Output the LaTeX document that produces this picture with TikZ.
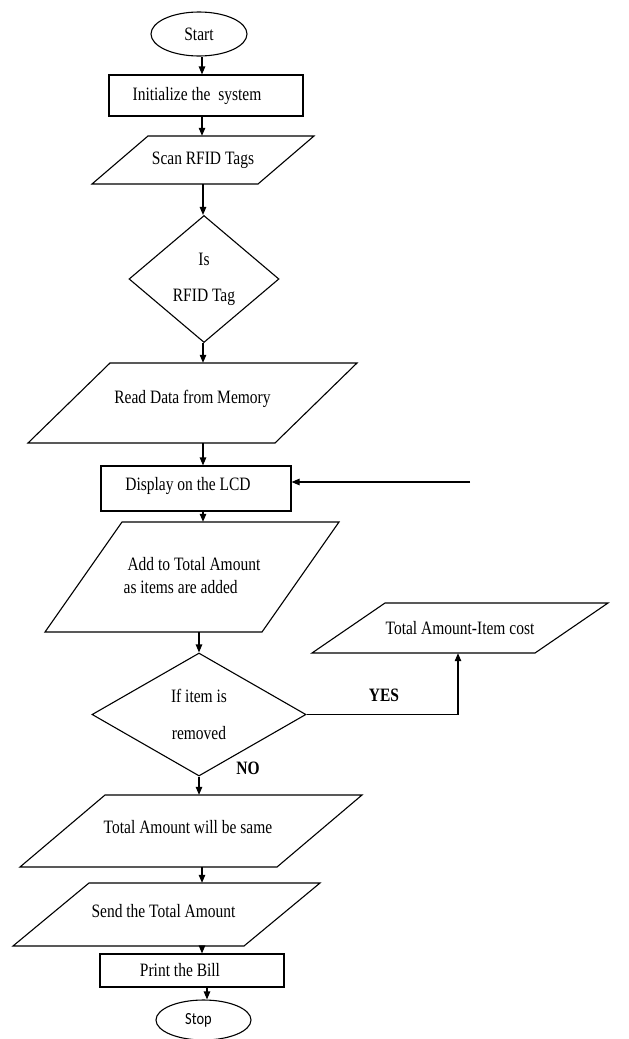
\documentclass[tikz,border=0pt]{standalone}
\usepackage{fontspec}
\setmainfont{Liberation Serif}[FakeStretch=0.82]
\newfontfamily\stopfont{Carlito}[FakeStretch=0.85]
\usetikzlibrary{shapes.geometric,arrows.meta}
\newcommand{\txtfont}{\fontsize{18.9}{23}\selectfont}
\newcommand{\paranode}[7]{%
  \draw[shapeline] (#4,#2) -- (#5,#2) -- ({#5-#6},#3) -- ({#4-#6},#3) -- cycle;
  \node[paratext, minimum height={#3-#2}, minimum width={#5-#4}] (#1) at ({(#4+#5-#6)/2},{(#2+#3)/2}) {#7};
}
\begin{document}
\begin{tikzpicture}[x=1pt,y=-1pt,
  shapeline/.style={line width=1.1pt, line join=miter},
  paratext/.style={inner sep=0pt, align=center, font=\txtfont},
  box/.style={draw, line width=1.1pt, inner sep=0pt, align=center, font=\txtfont},
  term/.style={draw, ellipse, line width=1.1pt, inner sep=0pt, font=\txtfont},
  decision/.style={draw, diamond, line width=1.1pt, inner sep=0pt, aspect=1, align=center, font=\txtfont},
  arr/.style={line width=1.1pt, -{Triangle[length=8pt,width=6.5pt]}},
  lbl/.style={inner sep=0pt, font=\txtfont\bfseries}
]
\fill[white] (0,0) rectangle (629,1039);
\useasboundingbox (0,0) rectangle (629,1039);

\coordinate (colA) at (202,0);
\coordinate (colB) at (203,0);
\coordinate (colC) at (199,0);
\coordinate (colD) at (207,0);

\node[term, minimum width=96pt, minimum height=44pt] (start) at (199,34) {Start};
\node[box, minimum width=194pt, minimum height=41pt] (init) at (206,95.5) {Initialize the~ system\hspace*{18pt}};
\paranode{scan}{136}{184}{148}{314}{56}{Scan RFID Tags}
\node[decision, minimum width=150pt, minimum height=127pt] (isrfid) at (204,279) {Is\\[13pt]RFID Tag};
\paranode{read}{363}{443}{110}{357}{82}{Read Data from Memory\\[-11pt]}
\node[box, minimum width=190pt, minimum height=45pt] (display) at (196,488.5) {Display on the LCD\hspace*{16pt}\\[-13pt]};
\paranode{add}{522}{632}{122}{339}{77}{\begin{tabular}{@{}l@{}}\ Add to Total Amount\\as items are added\end{tabular}}
\node[decision, minimum width=214pt, minimum height=123pt] (removed) at (199,714.5) {If item is\\[14pt]removed};
\paranode{minus}{603}{653}{385}{608}{73}{Total Amount-Item cost}
\paranode{same}{795}{867}{105}{362}{85}{Total Amount will be same\hspace*{6pt}\\[-15pt]}
\paranode{send}{883}{946}{89}{320}{76}{Send the Total Amount\hspace*{6pt}\\[-16pt]}
\node[box, minimum width=184pt, minimum height=33pt] (print) at (192,970.5) {Print the Bill\hspace*{24pt}};
\node[term, minimum width=95pt, minimum height=40pt, font=\stopfont\fontsize{17}{20}\selectfont] (stop) at (203.5,1020) {Stop\hspace*{10pt}};

\node[lbl] (yes) at (384,695) {YES};
\node[lbl] (no) at (248,768) {NO};

\coordinate (feed) at (470,482);

\draw[arr] (start.south -| colA) -- (init.north -| colA);
\draw[arr] (init.south -| colA) -- (scan.north -| colA);
\draw[arr] (scan.south -| colB) -- (isrfid.north -| colB);
\draw[arr] (isrfid.south -| colB) -- (read.north -| colB);
\draw[arr] (read.south -| colB) -- (display.north -| colB);
\draw[arr] (display.south -| colB) -- (add.north -| colB);
\draw[arr] (add.south -| colC) -- (removed.north);
\draw[arr] (removed.south) -- (same.north -| colC);
\draw[arr] (same.south -| colA) -- (send.north -| colA);
\draw[arr] (send.south -| colA) -- (print.north -| colA);
\draw[arr] (print.south -| colD) -- (stop.north -| colD);
\draw[arr] (removed.east) -| ([xshift=-2pt]minus.south);
\draw[arr] (feed) -- (feed -| display.east);
\end{tikzpicture}
\end{document}
